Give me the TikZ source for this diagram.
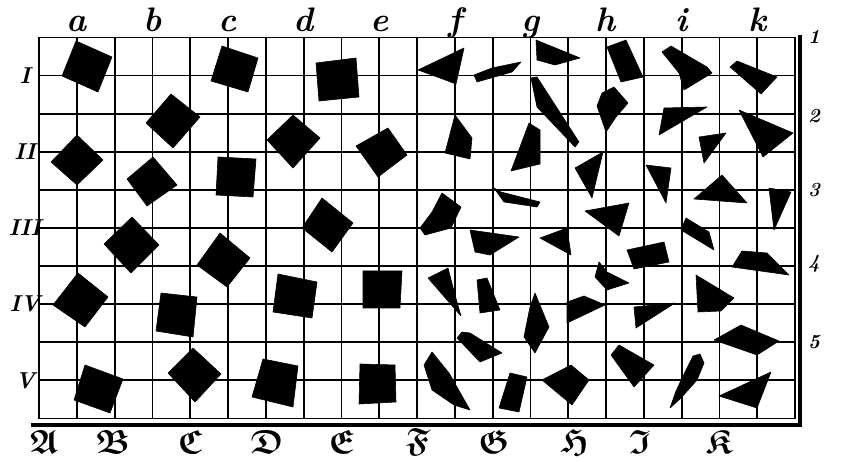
\documentclass[tikz,border=0pt]{standalone}
\usepackage{fontspec}
\usepackage{amssymb}
\usepackage{graphicx}
\begin{document}
\begin{tikzpicture}[x=1pt,y=-1pt,
  gridline/.style={line width=1.8pt,line cap=rect},
  frameline/.style={line width=3.4pt,line cap=rect},
  piece/.style={fill=black,draw=black,line width=0.6pt,line join=round},
  toplab/.style={font=\fontsize{34}{34}\selectfont\bfseries\itshape,anchor=base,inner sep=0pt},
  leftlab/.style={font=\fontsize{23}{23}\selectfont\bfseries\itshape,inner sep=0pt},
  rightlab/.style={font=\fontsize{20}{20}\selectfont\bfseries\itshape,inner sep=0pt},
  botlab/.style={font=\fontsize{24}{24}\selectfont\boldmath,inner sep=0pt}]
\useasboundingbox (0,0) rectangle (844,462);
% grid
\foreach \i in {0,...,20} \draw[gridline] ({39+\i*37.8},37.5) -- ({39+\i*37.8},418.5);
\foreach \j in {0,...,10} \draw[gridline] (39,{37.5+\j*38.1}) -- (795,{37.5+\j*38.1});
% heavy frame right and bottom
\coordinate (frtop) at (800,37);
\coordinate (frcorner) at (800,425);
\coordinate (frleft) at (33,425);
\draw[frameline] (frtop) -- (frcorner) -- (frleft);
% squares (left half)
\fill[piece] (76,41) -- (112,57) -- (98,92) -- (62,76) -- cycle;
\fill[piece] (222,46) -- (258,58) -- (248,92) -- (211,81) -- cycle;
\fill[piece] (316,63) -- (356,58) -- (359,97) -- (319,101) -- cycle;
\fill[piece] (171,94) -- (200,117) -- (173,148) -- (146,123) -- cycle;
\fill[piece] (77,135) -- (103,160) -- (77,185) -- (51,162) -- cycle;
\fill[piece] (293,115) -- (320,138) -- (293,168) -- (267,140) -- cycle;
\fill[piece] (388,128) -- (407,155) -- (378,177) -- (356,146) -- cycle;
\fill[piece] (153,157) -- (177,185) -- (147,206) -- (127,179) -- cycle;
\fill[piece] (218,157) -- (256,159) -- (253,197) -- (216,195) -- cycle;
\fill[piece] (322,198) -- (353,223) -- (332,252) -- (302,228) -- cycle;
\fill[piece] (132,217) -- (159,245) -- (131,273) -- (104,244) -- cycle;
\fill[piece] (220,233) -- (250,258) -- (227,287) -- (197,265) -- cycle;
\fill[piece] (78,273) -- (108,297) -- (85,327) -- (53,305) -- cycle;
\fill[piece] (278,274) -- (317,282) -- (312,318) -- (273,312) -- cycle;
\fill[piece] (363,271) -- (402,271) -- (400,308) -- (363,308) -- cycle;
\fill[piece] (161,293) -- (197,297) -- (193,337) -- (156,331) -- cycle;
\fill[piece] (85,365) -- (123,379) -- (110,413) -- (74,400) -- cycle;
\fill[piece] (193,348) -- (221,374) -- (195,402) -- (168,373) -- cycle;
\fill[piece] (263,359) -- (298,366) -- (293,407) -- (252,397) -- cycle;
\fill[piece] (360,364) -- (395,365) -- (396,402) -- (359,404) -- cycle;
% irregular pieces (right half)
\fill[piece] (464,48) -- (456,84) -- (440,78) -- (418,70) -- cycle;
\fill[piece] (474,75) -- (492,68) -- (521,62) -- (512,72) -- (477,82) -- cycle;
\fill[piece] (536,40) -- (580,58) -- (555,65) -- (537,60) -- cycle;
\fill[piece] (607,47) -- (626,40) -- (643,77) -- (621,82) -- cycle;
\fill[piece] (662,52) -- (671,46) -- (707,67) -- (712,73) -- (684,90) -- (679,73) -- cycle;
\fill[piece] (730,67) -- (737,61) -- (777,77) -- (761,94) -- cycle;
\fill[piece] (531,78) -- (537,77) -- (579,142) -- (575,147) -- (537,107) -- cycle;
\fill[piece] (614,87) -- (628,103) -- (616,117) -- (606,132) -- (597,106) -- (602,93) -- cycle;
\fill[piece] (664,108) -- (707,107) -- (659,135) -- cycle;
\fill[piece] (739,110) -- (793,133) -- (763,157) -- cycle;
\fill[piece] (699,137) -- (726,133) -- (704,163) -- cycle;
\fill[piece] (455,115) -- (472,138) -- (470,159) -- (445,153) -- cycle;
\fill[piece] (529,123) -- (540,130) -- (540,164) -- (511,171) -- cycle;
\fill[piece] (575,168) -- (603,152) -- (592,198) -- cycle;
\fill[piece] (646,165) -- (671,168) -- (666,203) -- cycle;
\fill[piece] (722,175) -- (747,203) -- (694,199) -- cycle;
\fill[piece] (769,188) -- (791,192) -- (774,230) -- cycle;
\fill[piece] (442,193) -- (461,207) -- (451,228) -- (425,235) -- (420,228) -- (432,212) -- cycle;
\fill[piece] (494,188) -- (501,192) -- (540,202) -- (537,207) -- (504,202) -- cycle;
\fill[piece] (585,211) -- (629,203) -- (619,236) -- cycle;
\fill[piece] (686,218) -- (709,232) -- (714,250) -- (681,230) -- cycle;
\fill[piece] (470,230) -- (519,237) -- (490,255) -- (475,252) -- cycle;
\fill[piece] (540,238) -- (567,228) -- (571,255) -- cycle;
\fill[piece] (627,250) -- (664,242) -- (669,262) -- (634,269) -- cycle;
\fill[piece] (742,251) -- (767,253) -- (789,275) -- (732,267) -- cycle;
\fill[piece] (428,278) -- (448,268) -- (455,295) -- (461,316) -- cycle;
\fill[piece] (477,280) -- (487,278) -- (500,310) -- (480,313) -- cycle;
\fill[piece] (535,293) -- (549,327) -- (535,353) -- (524,337) -- (530,307) -- cycle;
\fill[piece] (599,262) -- (607,272) -- (629,283) -- (607,290) -- (595,277) -- cycle;
\fill[piece] (696,275) -- (734,298) -- (721,311) -- (698,312) -- cycle;
\fill[piece] (567,302) -- (584,296) -- (605,305) -- (567,323) -- cycle;
\fill[piece] (634,307) -- (675,303) -- (636,328) -- cycle;
\fill[piece] (714,340) -- (741,325) -- (779,341) -- (757,355) -- cycle;
\fill[piece] (462,332) -- (470,333) -- (502,353) -- (480,362) -- (457,338) -- cycle;
\fill[piece] (432,352) -- (449,373) -- (470,410) -- (454,405) -- (432,390) -- (424,365) -- cycle;
\fill[piece] (510,373) -- (527,377) -- (519,412) -- (499,408) -- cycle;
\fill[piece] (542,380) -- (571,365) -- (589,380) -- (572,405) -- cycle;
\fill[piece] (611,355) -- (619,345) -- (654,365) -- (634,387) -- cycle;
\fill[piece] (693,356) -- (700,354) -- (704,363) -- (697,380) -- (681,398) -- (670,408) -- (676,391) -- (686,370) -- cycle;
\fill[piece] (719,396) -- (771,372) -- (757,408) -- cycle;
% labels
\foreach \l/\i in {a/1,b/3,c/5,d/7,e/9,f/11,g/13,h/15,i/17,k/19}
  \node[toplab] (top-\l) at ({39+\i*37.8},32) {\l};
\foreach \r/\j in {I/1,II/3,III/5,IV/7,V/9}
  \node[leftlab] (row-\r) at (25,{37.5+\j*38.1}) {\r};
\foreach \n/\y in {1/37,2/116,3/190,4/264,5/342}
  \node[rightlab] (num-\n) at (814,\y) {\n};
\foreach \L/\x in {A/44,B/113,C/190,D/267,E/342,F/418,G/494,H/575,I/640,K/719}
  \node[botlab] (col-\L) at (\x,442) {\scalebox{1.4}{$\mathfrak{\L}$}};
\end{tikzpicture}
\end{document}
